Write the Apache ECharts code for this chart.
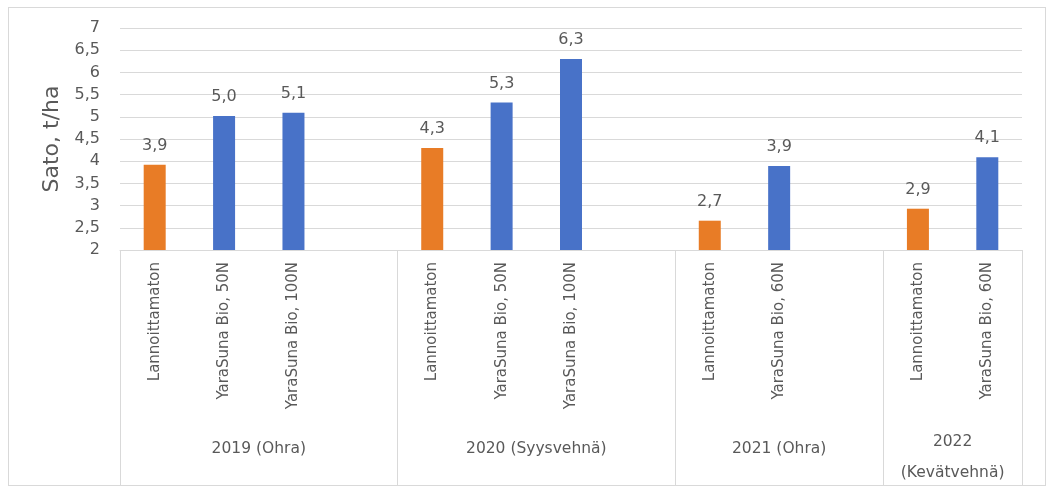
<!DOCTYPE html>
<html>
<head>
<meta charset="utf-8">
<script src="https://cdn.jsdelivr.net/npm/echarts@6/dist/echarts.min.js"></script>
<style>
html,body{margin:0;padding:0;background:#fff;}
#frame{position:absolute;left:8px;top:7px;width:1036px;height:477px;border:1px solid #d9d9d9;}
#chart{position:absolute;left:0;top:0;width:1053px;height:493px;}
</style>
</head>
<body>
<div id="frame"></div>
<div id="chart"></div>
<script>
// ---- data ----
const groups = ['2019 (Ohra)', '2020 (Syysvehnä)', '2021 (Ohra)', '2022\n(Kevätvehnä)'];
const groupTreatments = [
  ['Lannoittamaton', 'YaraSuna Bio, 50N', 'YaraSuna Bio, 100N', ''],
  ['Lannoittamaton', 'YaraSuna Bio, 50N', 'YaraSuna Bio, 100N', ''],
  ['Lannoittamaton', 'YaraSuna Bio, 60N', ''],
  ['Lannoittamaton', 'YaraSuna Bio, 60N']
];
const unfertilized = [3.92, 4.30, 2.66, 2.93];
const yaraSuna = [[5.02, 5.09], [5.32, 6.30], [3.89], [4.09]];
const yTicks = [2, 2.5, 3, 3.5, 4, 4.5, 5, 5.5, 6, 6.5, 7];

// ---- build category slots ----
const categories = [];
const orangeData = [];
const blueData = [];
const boundaries = [0];
const groupCenters = [];
groupTreatments.forEach((tr, g) => {
  const start = categories.length;
  tr.forEach((name, i) => {
    categories.push(name);
    if (i === 0) { orangeData.push(unfertilized[g]); blueData.push(null); }
    else if (i - 1 < yaraSuna[g].length) { orangeData.push(null); blueData.push(yaraSuna[g][i - 1]); }
    else { orangeData.push(null); blueData.push(null); }
  });
  boundaries.push(categories.length);
  groupCenters.push((start + categories.length) / 2);
});
const nSlots = categories.length;

const txt = '#595959';
const gridCol = '#d9d9d9';
const font = '"DejaVu Sans", sans-serif';
const fmt = v => v.toFixed(1).replace('.', ',');

const chart = echarts.init(document.getElementById('chart'));
const labelOpt = {
  show: true, position: 'top', distance: 11, color: txt, fontSize: 16, fontFamily: font,
  formatter: p => fmt(p.value)
};
chart.setOption({
  animation: false,
  textStyle: { fontFamily: font },
  grid: { left: 120, right: 31, top: 28, bottom: 243, containLabel: false, outerBoundsMode: 'none' },
  xAxis: [
    {
      type: 'category', data: categories,
      axisLine: { show: true, lineStyle: { color: gridCol, width: 1 } },
      axisTick: { show: false },
      axisLabel: { interval: 0, rotate: 90, color: txt, fontSize: 15, fontFamily: font, margin: 12 }
    },
    {
      type: 'value', min: 0, max: nSlots, gridIndex: 0, position: 'bottom',
      splitLine: { show: false },
      axisLine: { show: false },
      axisTick: { show: true, customValues: boundaries, length: 235, lineStyle: { color: gridCol, width: 1 } },
      axisLabel: {
        show: true, customValues: groupCenters, margin: 176, color: txt, fontSize: 15.5, fontFamily: font,
        lineHeight: 31, align: 'center', verticalAlign: 'top',
        formatter: (v) => {
          const i = groupCenters.indexOf(v);
          if (i < 0) return '';
          return groups[i].indexOf('\n') >= 0 ? groups[i] : '{s|' + groups[i] + '}';
        },
        rich: { s: { lineHeight: 45, fontSize: 15.5, color: txt, fontFamily: font } }
      }
    }
  ],
  yAxis: {
    type: 'value', min: 2, max: 7, interval: 0.5,
    name: 'Sato, t/ha', nameLocation: 'middle', nameGap: 57,
    nameTextStyle: { color: txt, fontSize: 22, fontFamily: font },
    axisLine: { show: false }, axisTick: { show: false },
    axisLabel: { color: txt, fontSize: 16, fontFamily: font, margin: 20, formatter: v => String(v).replace('.', ',') },
    splitLine: { lineStyle: { color: gridCol, width: 1 } }
  },
  series: [
    { type: 'bar', name: 'Lannoittamaton', stack: 's', data: orangeData, barWidth: 22,
      itemStyle: { color: '#E87C26' }, label: labelOpt },
    { type: 'bar', name: 'YaraSuna Bio', stack: 's', data: blueData, barWidth: 22,
      itemStyle: { color: '#4872C8' }, label: labelOpt }
  ]
});
</script>
</body>
</html>
